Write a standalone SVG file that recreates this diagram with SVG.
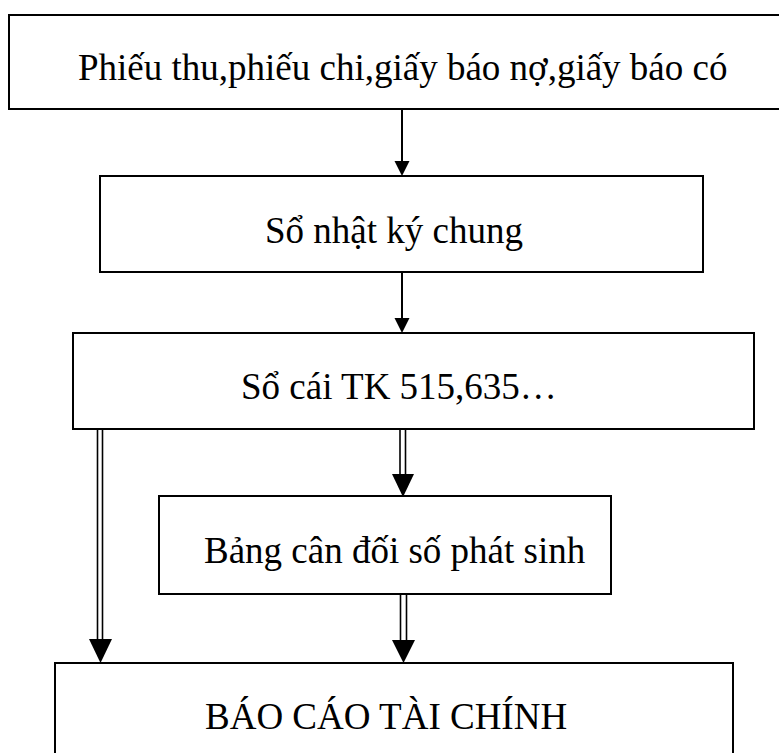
<svg xmlns="http://www.w3.org/2000/svg" width="779" height="753" viewBox="0 0 779 753">
<style>
.box{fill:#fff;stroke:#000;stroke-width:2}
.lbl{font-family:"Liberation Serif","Times New Roman",serif;font-size:37px;fill:#000}
.ln{stroke:#000;stroke-width:2;fill:none}
.dl{stroke:#000;stroke-width:1.6;fill:none}
.hd{fill:#000;stroke:none}
</style>
<rect width="779" height="753" fill="#fff"/>
<g id="node1"><rect class="box" x="9" y="15" width="790" height="94"/><text class="lbl" x="78" y="80">Phiếu thu,phiếu chi,giấy báo nợ,giấy báo có</text></g>
<g id="node2"><rect class="box" x="100" y="176" width="603" height="96"/><text class="lbl" x="265" y="243">Sổ nhật ký chung</text></g>
<g id="node3"><rect class="box" x="73" y="333" width="681" height="96"/><text class="lbl" x="241" y="399">Sổ cái TK 515,635…</text></g>
<g id="node4"><rect class="box" x="159" y="496" width="452" height="98"/><text class="lbl" x="204" y="563">Bảng cân đối số phát sinh</text></g>
<g id="node5"><rect class="box" x="55" y="663" width="678" height="100"/><text class="lbl" x="205" y="729">BÁO CÁO TÀI CHÍNH</text></g>
<g id="connectors">
<line class="ln" x1="402" y1="109" x2="402" y2="162"/>
<polygon class="hd" points="394.5,161 409.5,161 402,176"/>
<line class="ln" x1="402" y1="272" x2="402" y2="319"/>
<polygon class="hd" points="394.5,318 409.5,318 402,333"/>
<line class="dl" x1="97.5" y1="429" x2="97.5" y2="641"/>
<line class="dl" x1="102.5" y1="429" x2="102.5" y2="641"/>
<polygon class="hd" points="89,639 112,639 100.5,663"/>
<line class="dl" x1="400" y1="429" x2="400" y2="476"/>
<line class="dl" x1="405.5" y1="429" x2="405.5" y2="476"/>
<polygon class="hd" points="392,474 414,474 403,497"/>
<line class="dl" x1="400.5" y1="594" x2="400.5" y2="642"/>
<line class="dl" x1="406.5" y1="594" x2="406.5" y2="642"/>
<polygon class="hd" points="392,640 415,640 403.5,663"/>
</g>
</svg>
